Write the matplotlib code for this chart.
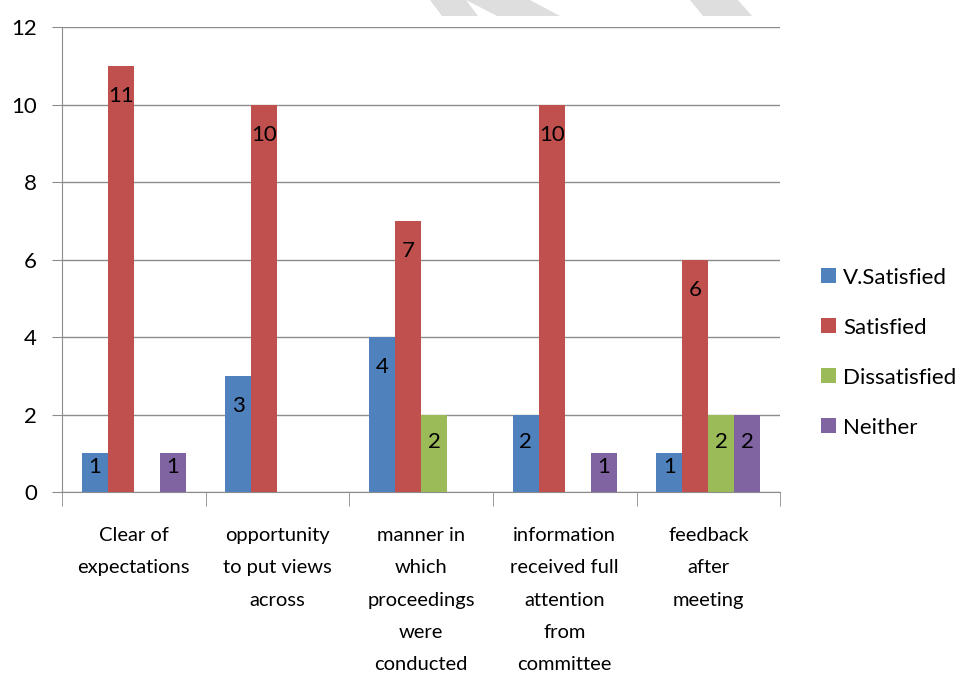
import numpy as np
import matplotlib
matplotlib.use("Agg")
import matplotlib.pyplot as plt
from matplotlib.patches import Polygon

plt.rcParams['font.family'] = ['Lato', 'DejaVu Sans']

categories = ["Clear of\nexpectations", "opportunity\nto put views\nacross",
              "manner in\nwhich\nproceedings\nwere\nconducted",
              "information\nreceived full\nattention\nfrom\ncommittee",
              "feedback\nafter\nmeeting"]
series = ["V.Satisfied", "Satisfied", "Dissatisfied", "Neither"]
v_satisfied = [1, 3, 4, 2, 1]
satisfied = [11, 10, 7, 10, 6]
dissatisfied = [0, 0, 2, 0, 2]
neither = [1, 0, 0, 1, 2]
colors = ["#4F81BD", "#C0504D", "#9BBB59", "#8064A2"]

values = [v_satisfied, satisfied, dissatisfied, neither]

fig = plt.figure(figsize=(9.68, 6.75), dpi=100)
ax = fig.add_axes([0.064, 0.271, 0.742, 0.689])

x = np.arange(len(categories))
w = 0.181
for i, (name, vals, c) in enumerate(zip(series, values, colors)):
    pos = x + (i - 1.5) * w
    ax.bar(pos, vals, width=w, color=c, label=name, zorder=3)
    for p, v in zip(pos, vals):
        if v > 0:
            ax.text(p, v - min(0.78, 0.36 * v), str(v), ha='center', va='center',
                    fontsize=16, color='black', zorder=4)

ax.set_xlim(-0.5, len(categories) - 0.5)
ax.set_ylim(0, 12)
ax.set_yticks(range(0, 13, 2))
ax.yaxis.grid(True, color='#8c8c8c', linewidth=1, zorder=0)
ax.set_xticks(x)
ax.set_xticklabels(categories, fontsize=14.5, linespacing=2.1)
ax.set_xticks(np.arange(-0.5, len(categories)), minor=True)
ax.tick_params(axis='x', which='major', length=0, pad=25)
ax.tick_params(axis='x', which='minor', length=10, color='#8c8c8c')
ax.tick_params(axis='y', length=7, color='#8c8c8c', labelsize=16, pad=11)
for s in ['top', 'right']:
    ax.spines[s].set_visible(False)
for s in ['left', 'bottom']:
    ax.spines[s].set_color('#8c8c8c')

ax.legend(loc='center left', bbox_to_anchor=(1.057, 0.30), frameon=False,
          fontsize=16, handlelength=0.65, handleheight=0.65, labelspacing=1.35,
          handletextpad=0.35, borderpad=0, borderaxespad=0)

# faint watermark shapes at the top edge
H = 675.0
W = 968.0
shapes = [[(430, 0), (466, 0), (478, 16), (442, 16)],
          [(466, 0), (530, 0), (560, 16), (497, 16)],
          [(690, 0), (738, 0), (752, 16), (703, 16)]]
for pts in shapes:
    fig.patches.append(Polygon([(px / W, 1 - py / H) for px, py in pts],
                               closed=True, transform=fig.transFigure,
                               facecolor='#dedede', edgecolor='none', zorder=0))

fig.savefig("out.png", dpi=100)
